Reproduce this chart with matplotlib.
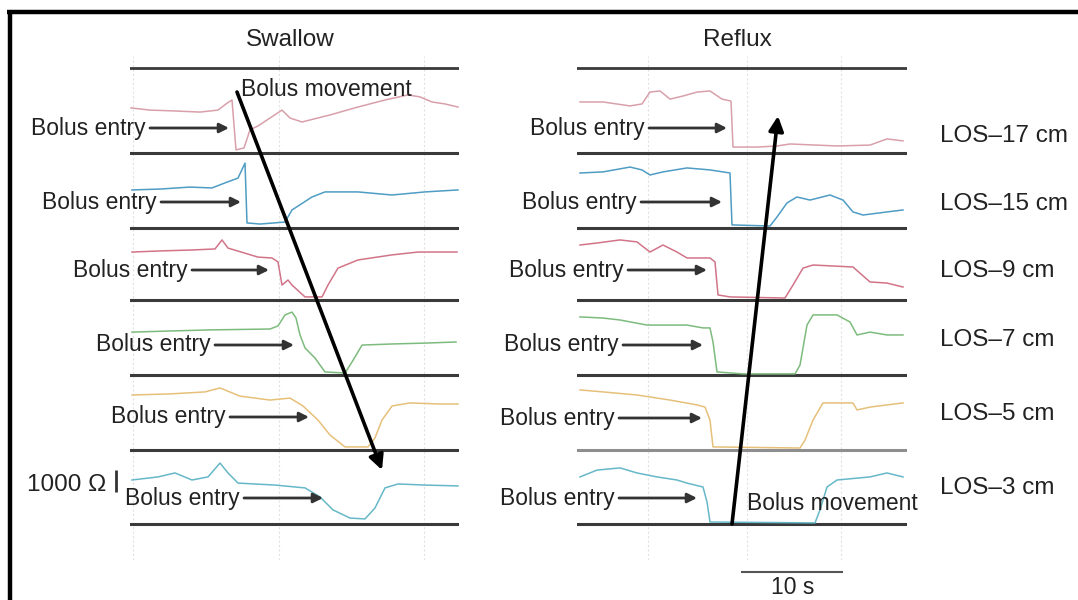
import matplotlib
matplotlib.use("Agg")
import matplotlib.pyplot as plt

# ---------------- data ----------------
channel_labels = ["LOS\u201317 cm", "LOS\u201315 cm", "LOS\u20139 cm",
                  "LOS\u20137 cm", "LOS\u20135 cm", "LOS\u20133 cm"]
trace_colors = ["#d9a0aa", "#4f9cc4", "#d27488", "#7dbb7d", "#e6c07a", "#66b8c8"]
panel_titles = ["Swallow", "Reflux"]

# Swallow panel: time (s) and impedance (kOhm) for each channel
sw_t_17 = [0.1, 2.0, 4.5, 7.0, 8.8, 9.6, 10.2, 10.6, 11.4, 12.0, 12.8, 14.0, 15.2, 16.0,
           17.2, 20.0, 22.8, 25.5, 27.8, 29.0, 30.2, 31.5, 32.8]
sw_z_17 = [2.05, 1.95, 1.91, 1.86, 1.95, 2.23, 2.41, 0.14, 0.23, 1.05, 1.23, 1.59, 1.95, 1.59,
           1.41, 1.73, 2.09, 2.41, 2.64, 2.55, 2.32, 2.23, 2.09]
sw_t_15 = [0.2, 3.0, 6.0, 8.2, 9.5, 10.8, 11.5, 11.7, 13.0, 15.5, 16.2, 18.2, 19.5, 22.8,
           26.2, 29.5, 32.8]
sw_z_15 = [1.73, 1.77, 1.86, 1.82, 2.05, 2.27, 2.95, 0.23, 0.18, 0.27, 0.82, 1.41, 1.64, 1.64,
           1.50, 1.64, 1.73]
sw_t_9 = [0.2, 3.0, 6.0, 8.5, 9.2, 9.8, 12.8, 14.2, 14.8, 15.2, 15.8, 16.2, 17.5, 19.2,
          19.8, 20.8, 22.8, 26.2, 28.8, 32.7]
sw_z_9 = [2.18, 2.23, 2.27, 2.32, 2.73, 2.36, 1.95, 1.91, 1.73, 0.68, 0.91, 0.68, 0.14, 0.14,
          0.68, 1.45, 1.82, 2.05, 2.18, 2.18]
sw_t_7 = [0.2, 4.0, 8.0, 14.0, 14.8, 15.5, 16.2, 16.6, 17.0, 17.5, 18.5, 19.5, 21.5, 22.2,
          23.2, 26.2, 29.5, 32.6]
sw_z_7 = [1.95, 2.00, 2.05, 2.09, 2.23, 2.73, 2.86, 2.59, 1.82, 1.23, 0.77, 0.14, 0.09, 0.59,
          1.36, 1.41, 1.45, 1.50]
sw_t_5 = [0.2, 4.0, 7.5, 9.0, 11.0, 14.0, 16.0, 17.3, 18.8, 20.0, 21.5, 23.8, 24.5, 25.2,
          26.2, 28.0, 31.0, 32.8]
sw_z_5 = [2.50, 2.55, 2.64, 2.82, 2.45, 2.27, 2.36, 2.00, 1.36, 0.68, 0.14, 0.14, 0.55, 1.36,
          2.00, 2.14, 2.09, 2.09]
sw_t_3 = [0.2, 2.8, 4.5, 6.2, 7.8, 9.0, 9.8, 10.8, 14.5, 17.5, 19.0, 20.3, 22.0, 23.5,
          24.5, 25.5, 26.8, 29.5, 32.8]
sw_z_3 = [2.00, 2.14, 2.32, 2.00, 2.14, 2.77, 2.32, 1.86, 1.77, 1.64, 1.23, 0.64, 0.27, 0.23,
          0.73, 1.64, 1.82, 1.77, 1.73]

# Reflux panel
rf_t_17 = [0.3, 2.6, 5.3, 6.5, 7.3, 8.3, 9.3, 10.6, 12.0, 13.3, 14.5, 15.4, 15.6, 18.0,
           20.0, 21.3, 26.0, 29.3, 31.0, 32.6]
rf_z_17 = [2.32, 2.32, 2.14, 2.23, 2.77, 2.82, 2.45, 2.59, 2.77, 2.82, 2.45, 2.36, 0.27, 0.27,
           0.32, 0.41, 0.32, 0.36, 0.64, 0.55]
rf_t_15 = [0.3, 2.6, 5.3, 6.5, 7.3, 8.6, 11.0, 13.3, 15.3, 15.5, 19.3, 20.0, 21.0, 22.0,
           23.3, 25.3, 26.6, 27.6, 28.6, 31.0, 32.6]
rf_z_15 = [2.50, 2.55, 2.77, 2.64, 2.41, 2.55, 2.73, 2.64, 2.50, 0.14, 0.09, 0.50, 1.14, 1.41,
           1.27, 1.50, 1.27, 0.73, 0.59, 0.73, 0.82]
rf_t_9 = [0.3, 2.0, 4.3, 6.0, 7.3, 8.6, 10.0, 11.0, 13.3, 13.8, 14.1, 15.3, 20.8, 21.6,
          22.6, 23.6, 27.6, 29.3, 31.0, 32.6]
rf_z_9 = [2.50, 2.59, 2.73, 2.64, 2.18, 2.50, 2.18, 1.91, 1.91, 1.73, 0.23, 0.14, 0.09, 0.68,
          1.45, 1.59, 1.50, 0.82, 0.77, 0.59]
rf_t_7 = [0.3, 2.6, 4.3, 7.0, 11.0, 12.6, 13.3, 13.6, 14.0, 16.6, 21.8, 22.3, 23.0, 23.6,
          26.0, 27.3, 28.0, 29.3, 31.0, 32.6]
rf_z_7 = [2.64, 2.59, 2.50, 2.27, 2.27, 2.14, 2.14, 1.50, 0.14, 0.05, 0.05, 0.45, 2.27, 2.73,
          2.73, 2.41, 1.82, 1.95, 1.82, 1.82]
rf_t_5 = [0.3, 2.6, 6.0, 9.3, 12.0, 12.8, 13.3, 13.6, 22.3, 22.8, 23.6, 24.6, 27.6, 28.0,
          29.3, 32.6]
rf_z_5 = [2.73, 2.64, 2.50, 2.27, 2.05, 1.95, 1.36, 0.14, 0.09, 0.45, 1.36, 2.14, 2.14, 1.82,
          1.95, 2.14]
rf_t_3 = [0.3, 2.0, 4.3, 6.0, 8.0, 10.0, 11.0, 12.6, 13.0, 13.3, 23.8, 24.3, 25.0, 26.0,
          29.3, 31.0, 32.6]
rf_z_3 = [2.14, 2.45, 2.55, 2.32, 2.14, 2.00, 1.86, 1.68, 1.00, 0.09, 0.05, 0.64, 1.68, 2.00,
          2.14, 2.32, 2.14]

swallow_t = [sw_t_17, sw_t_15, sw_t_9, sw_t_7, sw_t_5, sw_t_3]
swallow_z = [sw_z_17, sw_z_15, sw_z_9, sw_z_7, sw_z_5, sw_z_3]
reflux_t = [rf_t_17, rf_t_15, rf_t_9, rf_t_7, rf_t_5, rf_t_3]
reflux_z = [rf_z_17, rf_z_15, rf_z_9, rf_z_7, rf_z_5, rf_z_3]

scale_ohm_label = "1000 \u03a9"
scale_time_label = "10 s"
entry_label = "Bolus entry"
movement_label = "Bolus movement"

# ---------------- layout (pixels) ----------------
W, H, DPI = 1078, 600, 100
PX_PER_S = 10.0
PX_PER_KOHM = 22.0
AX_TOP, AX_BOT = 56, 560
baseline_px = [153, 228, 300, 375, 450, 524]
top_line_px = 68
panels_px = [(130, 459), (577, 907)]

FONT = ["Liberation Sans", "DejaVu Sans"]
plt.rcParams["font.family"] = FONT

fig = plt.figure(figsize=(W / DPI, H / DPI), dpi=DPI)
fig.patch.set_facecolor("white")


def to_off(py):
    return (AX_BOT - py) / PX_PER_KOHM


axes = []
grid_t = [[0.3, 14.9, 29.4], [7.1, 17.0, 26.4]]
all_t = [swallow_t, reflux_t]
all_z = [swallow_z, reflux_z]
for p, (x0, x1) in enumerate(panels_px):
    ax = fig.add_axes([x0 / W, 1 - AX_BOT / H, (x1 - x0) / W, (AX_BOT - AX_TOP) / H])
    ax.set_xlim(0, (x1 - x0) / PX_PER_S)
    ax.set_ylim(0, (AX_BOT - AX_TOP) / PX_PER_KOHM)
    ax.axis("off")
    for g in grid_t[p]:
        ax.axvline(g, color="#e2e2e2", lw=0.8, ls=(0, (2, 2)), zorder=0)
    ax.axhline(to_off(top_line_px), color="#3a3a3a", lw=2.0, zorder=2)
    for k, b in enumerate(baseline_px):
        off = to_off(b)
        lc = "#8e8e8e" if (p == 1 and k == 4) else "#3a3a3a"
        ax.axhline(off, color=lc, lw=2.2, zorder=2)
        ax.plot(all_t[p][k], [off + z for z in all_z[p][k]],
                color=trace_colors[k], lw=1.1, zorder=3)
    axes.append(ax)

ax_sw, ax_rf = axes

# 1000 ohm scale bar (left of swallow panel, LOS-3 channel)
off6 = to_off(baseline_px[5])
ax_sw.plot([-1.4, -1.4], [off6 + 1.45, off6 + 2.45], color="#333333", lw=2.0,
           clip_on=False, solid_capstyle="butt")
# 10 s scale bar under reflux panel
ybar = to_off(572)
ax_rf.plot([16.5, 26.5], [ybar, ybar], color="#555555", lw=1.5, clip_on=False)

# ---------------- overlay annotations (pixel coords) ----------------
ov = fig.add_axes([0, 0, 1, 1])
ov.set_xlim(0, W)
ov.set_ylim(H, 0)
ov.axis("off")

# frame
ov.plot([7, W], [11.5, 11.5], color="black", lw=3.2, solid_capstyle="butt")
ov.plot([9.5, 9.5], [10, H], color="black", lw=3.2, solid_capstyle="butt")

txt_col = "#222222"
ov.text(290, 40, panel_titles[0], fontsize=17.5, ha="center", va="center", color=txt_col)
ov.text(737, 40, panel_titles[1], fontsize=17.5, ha="center", va="center", color=txt_col)

label_y = [136, 204, 271, 340, 414, 488]
for lab, y in zip(channel_labels, label_y):
    ov.text(940, y, lab, fontsize=17.5, ha="left", va="center", color=txt_col)

entry_left = [(150, 229, 128), (161, 241, 202), (192, 269, 270),
              (215, 294, 345), (230, 309, 417), (244, 323, 498)]
entry_right = [(649, 727, 128), (641, 722, 202), (628, 707, 270),
               (623, 703, 345), (619, 702, 418), (619, 697, 498)]
for (xs, xe, y) in entry_left + entry_right:
    ov.annotate("", xy=(xe, y), xytext=(xs, y),
                arrowprops=dict(arrowstyle="-|>", color="#333333", lw=2.0,
                                mutation_scale=14, shrinkA=0, shrinkB=0))
    ov.text(xs - 4, y, entry_label, fontsize=16.5, ha="right", va="center", color=txt_col)

ov.text(241, 89, movement_label, fontsize=16.5, ha="left", va="center", color=txt_col)
ov.text(747, 503, movement_label, fontsize=16.5, ha="left", va="center", color=txt_col)

ov.annotate("", xy=(382, 470), xytext=(237, 92),
            arrowprops=dict(arrowstyle="-|>", color="black", lw=2.6,
                            mutation_scale=22, shrinkA=0, shrinkB=0))
ov.annotate("", xy=(778, 116), xytext=(732, 524),
            arrowprops=dict(arrowstyle="-|>", color="black", lw=2.6,
                            mutation_scale=22, shrinkA=0, shrinkB=0))

ov.text(106, 485, scale_ohm_label, fontsize=17.5, ha="right", va="center", color=txt_col)
ov.text(793, 587, scale_time_label, fontsize=16.5, ha="center", va="center", color=txt_col)

fig.savefig("out.png", dpi=DPI, facecolor="white")
